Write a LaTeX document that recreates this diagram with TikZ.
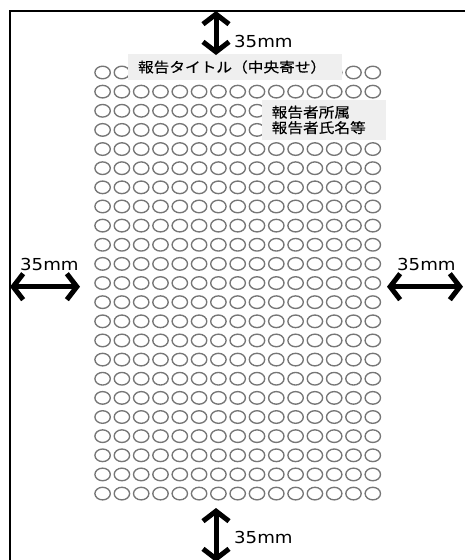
\documentclass[tikz,border=0pt]{standalone}
\usepackage{fontspec}
\newfontfamily\cjk[FakeStretch=1.12,FakeBold=0.2]{Noto Sans CJK JP}
\newfontfamily\dimfont[FakeStretch=1.1]{DejaVu Sans}
\usetikzlibrary{arrows.meta}
\definecolor{boxgray}{HTML}{EFEFEF}
\definecolor{ringgray}{HTML}{767676}
\tikzset{
  frameline/.style={line width=2.6pt, black},
  ring/.style={draw=ringgray, line width=1.35pt},
  dimarrow/.style={line width=5pt, black,
    {Straight Barb[length=10pt,width=26pt,line width=5pt]}-{Straight Barb[length=10pt,width=26pt,line width=5pt]}},
  dimlabel/.style={font=\dimfont\fontsize{16.5}{18}\selectfont, inner sep=0pt},
  graybox/.style={fill=boxgray, inner ysep=0pt, align=left,
    font=\cjk\fontsize{14}{15.5}\selectfont},
}
\begin{document}
\begin{tikzpicture}[x=1pt,y=-1pt]
\useasboundingbox (0,0) rectangle (464,560);
\fill[white] (0,0) rectangle (464,560);
% frame
\coordinate (ftl) at (10,11);
\coordinate (ftr) at (466,11);
\coordinate (fbl) at (10,562);
\draw[frameline] (ftr) -- (ftl) -- (fbl);
% grid of rings
\foreach \r in {0,...,22}{
  \foreach \c in {0,...,14}{
    \draw[ring] ({102.6+\c*19.3},{72.5+\r*19.14}) ellipse [x radius=7.7, y radius=6.3];
  }
}
% boxes
\node[graybox, anchor=center, minimum width=214, minimum height=26, text width=194, inner xsep=10] (title) at (235,67) {報告タイトル（中央寄せ）};
\node[graybox, anchor=center, minimum width=124, minimum height=40, text width=104.6, inner xsep=9.7] (affil) at (324,120) {報告者所属\\報告者氏名等};
% dimension arrows
\coordinate (ta) at (216,11);
\coordinate (tb) at (216,55);
\coordinate (ba) at (216,508);
\coordinate (bb) at (216,562);
\coordinate (la) at (10,286.7);
\coordinate (lb) at (80,286.7);
\coordinate (ra) at (387,286.7);
\coordinate (rb) at (463,286.7);
\draw[dimarrow] (ta) -- (tb);
\draw[dimarrow] (ba) -- (bb);
\draw[dimarrow] (la) -- (lb);
\draw[dimarrow] (ra) -- (rb);
\node[dimlabel, anchor=west] (tlab) at (234,41) {35mm};
\node[dimlabel, anchor=west] (blab) at (234,537) {35mm};
\node[dimlabel, anchor=west] (llab) at (20,264) {35mm};
\node[dimlabel, anchor=west] (rlab) at (397,264) {35mm};
\end{tikzpicture}
\end{document}
